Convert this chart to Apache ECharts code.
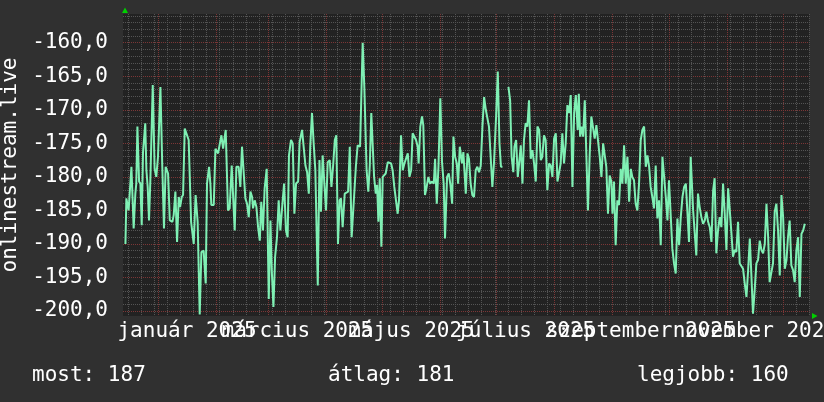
<!DOCTYPE html>
<html><head><meta charset="utf-8">
<script src="https://cdn.jsdelivr.net/npm/echarts@6/dist/echarts.min.js"></script>
<style>html,body{margin:0;padding:0;background:#303030}#c{width:824px;height:402px}</style>
</head><body><div id="c"></div>
<script>
// x = days since 2025-01-01, y = value
const decJan = [[-17.4,-190.0],[-16.9,-183.2],[-15.7,-185.0],[-14.2,-178.5],[-13.7,-178.3],[-13.0,-187.7],[-12.1,-182.5],[-11.6,-181.0],[-11.0,-172.5],[-10.1,-180.7],[-9.4,-181.0],[-8.7,-187.2],[-8.0,-176.3],[-6.8,-172.0],[-6.2,-179.0],[-5.5,-181.5],[-4.8,-186.5],[-4.1,-180.7],[-2.8,-166.3],[-1.8,-178.8],[-0.9,-180.0],[0.0,-177.0],[1.3,-166.6],[2.3,-178.5],[3.2,-187.7],[4.1,-178.5],[5.4,-179.5],[6.3,-186.5],[7.7,-186.7],[8.4,-185.7],[9.3,-182.2],[10.2,-189.7],[11.1,-183.0],[11.8,-184.5],[12.7,-183.0],[13.4,-182.7],[14.3,-172.8],[15.3,-173.0],[16.4,-174.5],[17.7,-186.7],[19.1,-190.0],[20.1,-182.7],[21.2,-186.7],[22.3,-200.5],[23.2,-191.2],[24.4,-191.0],[25.5,-195.9],[26.2,-181.0],[27.3,-178.5],[28.0,-181.0],[28.5,-184.2],[29.8,-184.2],[30.7,-175.8],[32.1,-176.5],[33.9,-173.8],[34.8,-175.8],[36.2,-173.0],[37.4,-185.0],[38.3,-184.7],[39.4,-178.3],[41.0,-188.0]];
const febApr = [[41.9,-178.5],[43.1,-178.5],[44.0,-181.5],[44.9,-175.5],[45.8,-175.5],[46.7,-183.2],[47.6,-184.0],[48.5,-186.0],[49.4,-182.2],[50.3,-183.0],[50.8,-184.7],[51.7,-183.5],[52.6,-184.5],[53.5,-187.5],[54.4,-189.5],[55.2,-183.7],[56.1,-188.0],[57.0,-181.7],[58.1,-178.8],[59.2,-198.2],[60.1,-186.5],[60.8,-193.9],[61.7,-199.4],[62.6,-191.9],[63.6,-189.0],[64.5,-183.5],[65.4,-188.0],[66.5,-184.0],[67.4,-181.0],[68.4,-188.0],[69.3,-189.0],[70.0,-176.8],[71.1,-174.5],[72.0,-175.0],[72.9,-185.5],[73.8,-181.0],[74.9,-180.7],[75.7,-174.8],[77.0,-173.0],[77.9,-172.8],[78.8,-178.3],[79.7,-179.3],[80.6,-182.5],[81.4,-175.3],[82.3,-170.5],[83.2,-175.0],[84.1,-179.0],[85.4,-196.2],[86.3,-177.5],[87.1,-185.2],[88.0,-176.8],[88.9,-177.0],[89.8,-185.0],[90.7,-177.8],[91.8,-177.5],[92.7,-181.5],[93.6,-178.3],[94.5,-174.5],[95.3,-173.8],[96.2,-190.0],[97.1,-183.5],[97.8,-183.2],[98.7,-187.5],[99.8,-182.5],[101.6,-182.2],[102.5,-175.5]];
const aprJun = [[103.5,-189.0],[104.4,-189.0],[105.0,-182.0],[105.8,-178.3],[106.7,-175.3],[108.0,-175.5],[108.5,-175.3],[109.4,-160.0],[110.3,-166.8],[110.8,-166.8],[111.5,-179.0],[112.4,-182.2],[113.2,-178.3],[114.0,-170.5],[114.8,-170.5],[115.5,-180.0],[116.4,-182.5],[117.1,-181.2],[117.8,-186.7],[118.5,-180.2],[119.4,-190.4],[120.1,-180.0],[121.0,-180.0],[121.7,-179.5],[122.8,-177.8],[123.7,-177.6],[124.6,-178.0],[125.4,-179.0],[126.3,-181.5],[127.2,-183.5],[128.1,-185.5],[128.8,-183.5],[129.9,-173.8],[130.8,-179.0],[131.7,-178.0],[132.6,-177.8],[133.5,-176.5],[134.4,-180.0],[135.3,-179.0],[136.1,-173.5],[137.0,-173.5],[137.9,-174.5],[138.8,-175.5],[139.3,-178.0],[140.2,-172.5],[141.1,-171.0],[141.8,-172.3],[142.7,-182.7],[143.6,-181.5],[144.5,-180.0],[145.4,-181.0],[146.3,-180.7],[147.4,-181.0],[148.1,-177.3],[149.0,-184.0],[149.9,-178.5],[150.9,-168.3],[151.8,-177.8],[152.7,-181.0],[153.4,-189.2],[154.5,-180.0],[155.4,-179.5],[156.3,-181.2],[157.2,-184.0],[157.9,-174.0],[158.8,-177.0],[159.7,-178.0],[160.4,-181.0],[161.3,-175.5],[162.5,-178.0]];
const junJul = [[163.2,-176.3],[164.5,-182.5],[165.4,-176.5],[166.2,-177.3],[167.1,-181.0],[168.0,-182.7],[168.9,-183.0],[169.8,-179.0],[170.7,-178.5],[171.6,-179.3],[172.5,-178.3],[173.4,-172.5],[174.3,-168.1],[175.2,-170.0],[176.0,-169.8],[176.9,-172.5],[177.8,-177.0],[178.7,-181.5],[179.6,-177.8],[180.7,-171.0],[181.6,-164.3],[182.5,-175.0],[183.3,-178.5],[184.1,-178.5]];
const julAug = [[187.3,-166.6],[188.2,-168.6],[189.0,-177.0],[189.9,-179.3],[190.5,-175.5],[191.4,-174.5],[192.3,-180.0],[193.0,-178.0],[193.9,-175.3],[194.8,-181.0],[195.6,-174.5],[196.5,-172.0],[197.4,-172.5],[198.3,-168.6],[199.2,-177.3],[200.1,-176.0],[201.0,-178.0],[201.9,-180.7],[202.8,-172.5],[203.7,-173.0],[204.6,-177.5],[205.4,-177.0],[206.3,-173.8],[207.2,-174.5],[208.1,-182.0],[209.0,-178.0],[209.9,-178.3],[210.8,-180.0],[211.7,-174.3],[212.6,-173.5],[213.5,-180.7],[214.4,-180.5],[215.2,-178.0],[216.1,-173.5],[217.0,-178.0],[217.9,-175.0],[218.8,-169.3],[219.7,-170.5],[220.6,-167.8],[221.5,-181.5],[222.4,-170.5],[223.3,-167.8],[224.3,-173.0]];
const augOct = [[224.9,-167.6],[225.6,-174.0],[226.5,-172.5],[227.2,-174.0],[228.1,-168.6],[229.0,-168.8],[229.8,-185.0],[230.7,-176.8],[231.6,-171.0],[232.5,-170.8],[233.4,-174.3],[234.3,-172.3],[235.2,-172.5],[236.1,-177.0],[237.0,-180.0],[237.9,-175.0],[238.8,-174.8],[239.6,-178.5],[240.5,-185.5],[241.4,-179.8],[242.3,-180.7],[242.9,-185.5],[243.7,-180.7],[244.6,-190.2],[245.5,-183.5],[246.4,-184.2],[247.3,-178.8],[248.2,-181.0],[249.1,-175.3],[250.0,-181.0],[250.9,-177.0],[251.8,-183.7],[252.7,-178.8],[253.5,-180.0],[254.4,-180.5],[255.3,-184.0],[256.2,-185.0],[257.1,-181.0],[258.0,-174.5],[258.9,-173.0],[259.8,-172.5],[260.7,-178.5],[261.6,-176.8],[262.5,-178.5],[263.3,-181.5],[264.2,-183.0],[265.1,-184.7],[266.0,-178.3],[266.9,-186.2],[267.8,-183.5],[268.7,-190.2],[269.6,-177.0],[270.5,-176.8],[271.4,-183.0],[272.3,-186.5],[273.1,-180.5],[274.0,-180.7],[274.9,-190.7],[275.8,-192.9],[276.7,-194.4],[277.6,-186.2],[278.5,-190.2],[279.4,-186.0],[280.3,-183.0],[281.2,-181.5],[282.1,-181.0],[282.9,-185.0],[283.8,-189.7],[284.7,-177.0]];
const octDec = [[286.0,-185.0],[286.9,-185.0],[287.7,-191.7],[288.6,-182.5],[289.5,-184.5],[290.4,-186.0],[291.3,-187.0],[292.2,-186.5],[293.1,-185.2],[294.0,-186.7],[294.9,-187.5],[295.8,-189.7],[296.7,-182.0],[297.5,-180.2],[298.4,-191.4],[299.3,-188.0],[300.2,-186.0],[301.1,-187.5],[302.0,-181.0],[302.9,-185.5],[303.8,-190.9],[304.7,-181.7],[305.6,-185.0],[306.5,-188.5],[307.3,-191.9],[308.2,-190.9],[309.1,-191.2],[310.0,-186.7],[310.9,-192.9],[311.8,-192.9],[312.7,-193.7],[313.6,-195.9],[314.5,-197.9],[315.4,-193.9],[316.3,-189.2],[317.1,-194.4],[318.0,-200.4],[318.9,-196.9],[319.8,-192.9],[320.7,-192.4],[321.6,-189.5],[322.5,-190.9],[323.4,-191.4],[324.3,-190.0],[325.2,-184.0],[326.1,-189.0],[326.9,-195.7],[327.8,-195.7],[328.7,-192.9],[329.6,-185.2],[330.5,-184.0],[331.4,-188.0],[332.3,-194.7],[333.2,-182.7],[334.1,-186.0],[335.0,-193.7],[335.9,-192.4],[336.7,-189.0],[337.6,-186.5],[338.5,-193.2],[339.4,-193.9],[340.3,-195.7],[341.2,-190.9],[342.1,-189.0],[343.0,-197.9],[343.9,-188.5],[344.8,-188.0],[345.7,-187.0]];

const yMajorTicks = [-200,-195,-190,-185,-180,-175,-170,-165,-160];
// month labels, centred on mid-month; split into two non-overlapping rows of the same baseline
const xLabelPositionsA = [15.5, 135.5, 258];
const xLabelTextsA = ['január 2025','május 2025','szeptember 2025'];
const xLabelPositionsB = [74.5, 196.5, 319];
const xLabelTextsB = ['március 2025','július 2025','november 2025'];
const monthStarts = [0,31,59,90,120,151,181,212,243,273,304,334];
const summaryLabels = ['most','átlag','legjobb'];
const summaryValues = [187,181,160];
const axisName = 'onlinestream.live';

const X_MIN = -18.7, X_MAX = 348.2, Y_MIN = -200.74, Y_MAX = -155.72;
const weekStarts = [];
for (let d = -16; d <= X_MAX; d += 7) if (monthStarts.indexOf(d) < 0) weekStarts.push(d);
const yMinorTicks = [];
for (let v = -200; v <= -156; v++) if (v % 5 !== 0) yMinorTicks.push(v);

const data = [].concat(decJan, febApr, aprJun, junJul, [[185.7, null]], julAug, augOct, octDec);

const FONT = 'DejaVu Sans Mono';
const RED = '#7c3636', GRAY = '#545454';
const dots = [1, 1];
const xLabelStyle = {margin: 5, color: '#ffffff', fontFamily: FONT, fontSize: 21,
  showMinLabel: true, showMaxLabel: true, hideOverlap: false};

const chart = echarts.init(document.getElementById('c'), null, {renderer: 'canvas'});
chart.setOption({
  animation: false,
  backgroundColor: '#303030',
  grid: {left: 123, top: 14, right: 14.5, bottom: 86, show: true, backgroundColor: '#222222', borderWidth: 0, containLabel: false, outerBoundsMode: 'none'},
  xAxis: [{
    type: 'value', min: X_MIN, max: X_MAX, position: 'bottom', offset: 0,
    axisLine: {show: false},
    axisTick: {show: false, customValues: monthStarts},
    splitLine: {show: true, customValues: monthStarts, lineStyle: {color: RED, width: 1, type: dots}},
    axisLabel: Object.assign({customValues: xLabelPositionsA,
      formatter: v => xLabelTextsA[xLabelPositionsA.indexOf(v)] || ''}, xLabelStyle)
  }, {
    type: 'value', min: X_MIN, max: X_MAX, position: 'bottom', offset: 0,
    axisLine: {show: false},
    axisTick: {show: false, customValues: weekStarts},
    splitLine: {show: true, customValues: weekStarts, lineStyle: {color: GRAY, width: 1, type: dots}},
    axisLabel: Object.assign({customValues: xLabelPositionsB,
      formatter: v => xLabelTextsB[xLabelPositionsB.indexOf(v)] || ''}, xLabelStyle)
  }],
  yAxis: [{
    type: 'value', min: Y_MIN, max: Y_MAX,
    axisLine: {show: false},
    axisTick: {show: false, customValues: yMajorTicks},
    splitLine: {show: true, customValues: yMajorTicks, lineStyle: {color: RED, width: 1, type: dots}},
    axisLabel: {customValues: yMajorTicks, margin: 15, color: '#ffffff', fontFamily: FONT, fontSize: 21,
      lineHeight: 21, padding: [3, 0, 0, 0], showMinLabel: true, showMaxLabel: true,
      formatter: v => v.toFixed(1).replace('.', ',')},
    name: axisName, nameLocation: 'middle', nameGap: 92,
    nameTextStyle: {color: '#ffffff', fontFamily: FONT, fontSize: 21}
  }, {
    type: 'value', min: Y_MIN, max: Y_MAX, position: 'left',
    axisLine: {show: false}, axisLabel: {show: false},
    axisTick: {show: false, customValues: yMinorTicks},
    splitLine: {show: true, customValues: yMinorTicks, lineStyle: {color: GRAY, width: 1, type: dots}}
  }],
  series: [{
    type: 'line', xAxisIndex: 0, yAxisIndex: 0, data: data,
    showSymbol: false, connectNulls: false,
    lineStyle: {color: '#7ff0b4', width: 2}, z: 10
  }],
  graphic: [
    {type: 'polygon', shape: {points: [[122, 13], [128, 13], [125, 7.5]]}, style: {fill: '#00d000'}, z: 100},
    {type: 'polygon', shape: {points: [[812, 313], [812, 319], [817.5, 316]]}, style: {fill: '#00d000'}, z: 100}
  ].concat(summaryLabels.map((l, i) => ({
    type: 'text', x: [32, 328, 637][i], y: 376,
    style: {text: l + ': ' + summaryValues[i], fill: '#ffffff', font: '21px "' + FONT + '"', verticalAlign: 'middle'}
  })))
});
</script></body></html>
